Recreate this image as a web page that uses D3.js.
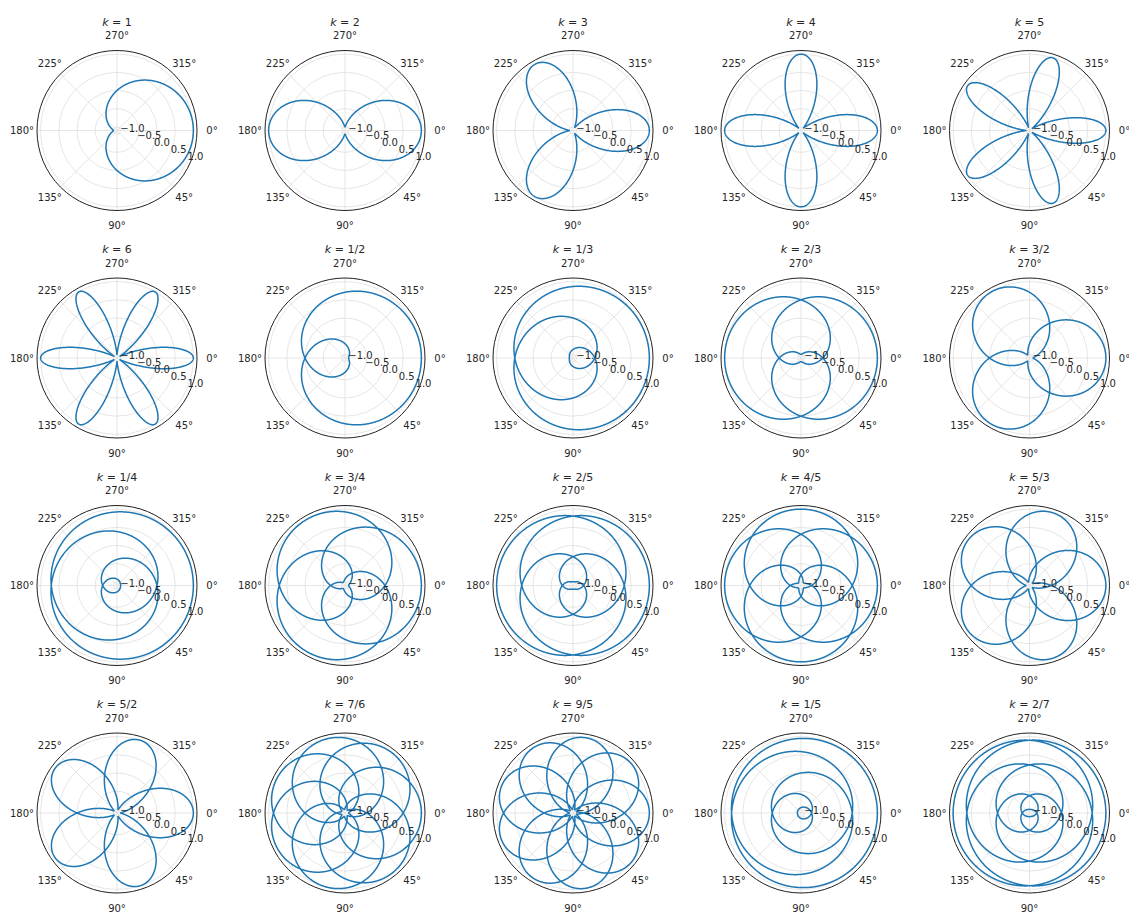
<!DOCTYPE html>
<html>
<head>
<meta charset="utf-8">
<script src="https://cdn.jsdelivr.net/npm/d3@7"></script>
<style>
  body { margin: 0; background: #fff; }
  text { font-family: "DejaVu Sans", sans-serif; fill: #262626; }
</style>
</head>
<body>
<script>
// rose curves r = cos(k * theta), k = num / den
var kNum = [1, 2, 3, 4, 5, 6, 1, 1, 2, 3, 1, 3, 2, 4, 5, 5, 7, 9, 1, 2];
var kDen = [1, 1, 1, 1, 1, 1, 2, 3, 3, 2, 4, 4, 5, 5, 3, 2, 6, 5, 5, 7];
var rTicks = [-1.0, -0.5, 0.0, 0.5, 1.0];
var rTickLabels = ["\u22121.0", "\u22120.5", "0.0", "0.5", "1.0"];
var thetaTicks = [0, 45, 90, 135, 180, 225, 270, 315];
var rLimits = [-1.1, 1.1];

var svgWidth = 1129, svgHeight = 915;
var nCols = 5;
var colX = [117, 345, 573, 801, 1029.5];
var rowY = [130.5, 358, 585.5, 813];
var R = 80;

var svg = d3.select("body")
    .append("svg")
    .attr("width", svgWidth)
    .attr("height", svgHeight);

var r = d3.scaleLinear()
    .domain(rLimits)
    .range([0, R]);

var toRad = Math.PI / 180;

kNum.forEach(function(num, i) {
    var den = kDen[i];
    var k = num / den;
    var cx = colX[i % nCols];
    var cy = rowY[Math.floor(i / nCols)];

    var g = svg.append("g")
        .attr("transform", `translate(${cx}, ${cy})`);

    // grid circles
    g.selectAll("circle.grid")
        .data(rTicks)
        .enter()
        .append("circle")
        .attr("class", "grid")
        .attr("r", function(d) { return r(d); })
        .attr("fill", "none")
        .attr("stroke", "#dedede")
        .attr("stroke-width", 0.8);

    // angular grid lines
    g.selectAll("line.grid")
        .data(thetaTicks)
        .enter()
        .append("line")
        .attr("x1", 0).attr("y1", 0)
        .attr("x2", function(d) { return R * Math.cos(d * toRad); })
        .attr("y2", function(d) { return R * Math.sin(d * toRad); })
        .attr("stroke", "#dedede")
        .attr("stroke-width", 0.8);

    // the curve, theta clockwise from east
    var thetaMax = 2 * Math.PI * den;
    var steps = 1200 * den;
    var thetas = d3.range(steps + 1).map(function(j) { return thetaMax * j / steps; });
    var line = d3.lineRadial()
        .angle(function(t) { return t + Math.PI / 2; })
        .radius(function(t) { return r(Math.cos(k * t)); });

    g.append("path")
        .datum(thetas)
        .attr("d", line)
        .attr("fill", "none")
        .attr("stroke", "#1f77b4")
        .attr("stroke-width", 1.5);

    // outer spine
    g.append("circle")
        .attr("r", R)
        .attr("fill", "none")
        .attr("stroke", "#222")
        .attr("stroke-width", 1);

    // theta labels
    g.selectAll("text.theta")
        .data(thetaTicks)
        .enter()
        .append("text")
        .attr("x", function(d) { return (R + 15) * Math.cos(d * toRad); })
        .attr("y", function(d) { return (R + 15) * Math.sin(d * toRad); })
        .attr("text-anchor", "middle")
        .attr("dominant-baseline", "central")
        .attr("font-size", "10px")
        .text(function(d) { return d + "\u00b0"; });

    // radial labels along 22.5 deg
    var la = 22.5 * toRad;
    g.selectAll("text.rlab")
        .data(rTicks)
        .enter()
        .append("text")
        .attr("x", function(d) { return r(d) * Math.cos(la); })
        .attr("y", function(d) { return r(d) * Math.sin(la); })
        .attr("text-anchor", "start")
        .attr("font-size", "10px")
        .text(function(d, j) { return rTickLabels[j]; });

    // title
    var title = g.append("text")
        .attr("x", 0)
        .attr("y", -109)
        .attr("text-anchor", "middle")
        .attr("dominant-baseline", "central")
        .attr("font-size", "11px");
    title.append("tspan").attr("font-style", "italic").text("k");
    title.append("tspan").text(" = " + (den === 1 ? num : num + "/" + den));
});
</script>
</body>
</html>
